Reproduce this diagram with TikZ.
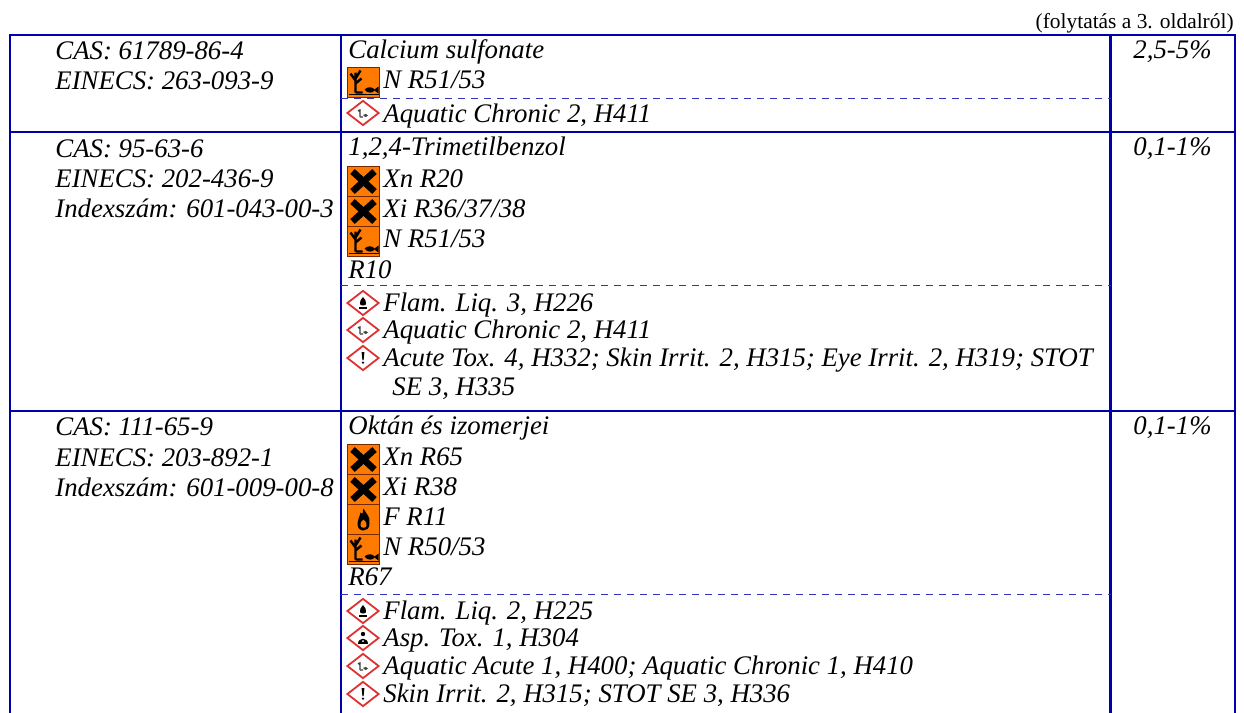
\documentclass[tikz,border=0pt]{standalone}
\usepackage{fontspec}
\setmainfont{Liberation Serif}
\usetikzlibrary{shapes.geometric}

\definecolor{tableblue}{RGB}{0,0,170}
\definecolor{hazorange}{RGB}{255,122,0}
\definecolor{hazedge}{RGB}{120,40,0}
\definecolor{ghsred}{RGB}{222,50,50}

\tikzset{
  tableline/.style={draw=tableblue, line width=1.15pt},
  dashline/.style={draw=tableblue!80!white, line width=0.5pt, dash pattern=on 3.5pt off 3pt},
  cell/.style={anchor=base west, inner sep=0pt, font=\fontsize{13.4}{15}\selectfont\itshape},
  pct/.style={cell, anchor=base},
  % old orange EU signs
  eusq/.style={rectangle, draw=hazedge, line width=0.5pt, fill=hazorange,
    minimum width=16pt, minimum height=15pt, inner sep=0pt, anchor=north west},
  xsq/.style={eusq, path picture={
    \draw[black, shift={(path picture bounding box.center)}, line width=3.3pt]
      (-11,-10) -- (11,10) (-11,10) -- (11,-10);}},
  flamesq/.style={eusq, path picture={
    \begin{scope}[shift={(path picture bounding box.center)}]
      \fill[black] (0,-11) .. controls (3,-5) and (7,-3) .. (6,4) .. controls (6,9) and (3,11) .. (0,11)
        .. controls (-4,11) and (-6,8) .. (-6,4) .. controls (-6,0) and (-4,-2) .. (-3,-7)
        .. controls (-1,-5) .. (0,-11) -- cycle;
      \fill[hazorange] (0,0) .. controls (3,3) .. (3,6) .. controls (3,9) and (-3,9) .. (-3,6)
        .. controls (-3,3) .. (0,0) -- cycle;
    \end{scope}}},
  envsq/.style={eusq, path picture={
    \begin{scope}[shift={(path picture bounding box.center)}, black]
      \draw[black, line width=1.2pt] (-8,10) -- (-8,-10) (-8,-2) -- (-13,-9) (-8,-4) -- (-3,-12)
        (-8,1) -- (-2,-4) (-8,10) -- (-1,10);
      \draw[black, line width=0.6pt] (-15,12) -- (15,12);
      \fill[black] (1,7) .. controls (4,4) and (9,4) .. (11,7) -- (15,4) -- (15,11) -- (11,8)
        .. controls (9,11) and (4,11) .. (1,7) -- cycle;
    \end{scope}}},
  % GHS diamonds
  ghs/.style={diamond, aspect=1.28, draw=ghsred, line width=0.9pt, fill=white,
    minimum width=16pt, minimum height=12.5pt, inner sep=0pt},
  ghsflame/.style={ghs, path picture={
    \begin{scope}[shift={(path picture bounding box.center)}]
      \fill[black] (0,-6) .. controls (3,-2) .. (3,1) .. controls (3,3) and (-3,3) .. (-3,1)
        .. controls (-3,-2) .. (0,-6) -- cycle;
      \fill[black] (-4,4) rectangle (4,5.5);
    \end{scope}}},
  ghsenv/.style={ghs, path picture={
    \begin{scope}[shift={(path picture bounding box.center)}]
      \draw[black!75, line width=0.6pt] (-3,4) -- (-3,-4) (-3,-1) -- (-5,-3) (-3,4) -- (0,4);
      \fill[black!75] (0,2) .. controls (2,0.5) and (4,0.5) .. (5,2.5) .. controls (4,4.5) and (2,4.5) .. (0,2) -- cycle;
    \end{scope}}},
  ghsexcl/.style={ghs, path picture={
    \begin{scope}[shift={(path picture bounding box.center)}]
      \fill[black] (-1.4,-6) -- (1.4,-6) -- (0.6,2) -- (-0.6,2) -- cycle;
      \fill[black] (0,4.6) circle (0.65pt);
    \end{scope}}},
  ghshealth/.style={ghs, path picture={
    \begin{scope}[shift={(path picture bounding box.center)}]
      \fill[black] (0,-4) circle (1.1pt);
      \fill[black] (-5,6) .. controls (-5,-1) and (5,-1) .. (5,6) -- cycle;
      \fill[white] (0,3) circle (0.5pt);
    \end{scope}}}
}

\begin{document}
\begin{tikzpicture}[x=0.5pt, y=-0.5pt]
  \useasboundingbox (0,0) rectangle (1244,713);

  \node[anchor=base east, inner sep=0pt, font=\fontsize{10.7}{12}\selectfont] (cont) at (1234,28) {(folytatás a 3. oldalról)};

  % table grid
  \draw[tableline] (10,713) -- (10,35) -- (1235,35) -- (1235,713);
  \draw[tableline] (341,35) -- (341,713) (1110.5,35) -- (1110.5,713);
  \draw[tableline] (10,132.3) -- (1235,132.3) (10,410.7) -- (1235,410.7);
  \draw[dashline] (341,98) -- (1110.5,98) (341,285) -- (1110.5,285) (341,594) -- (1110.5,594);

  % first row
  \node[cell] (cas1) at (55,59) {CAS: 61789-86-4};
  \node[cell] (einecs1) at (55,89) {EINECS: 263-093-9};
  \node[cell] (name1) at (348,58) {Calcium sulfonate};
  \node[envsq] (n1sign) at (347,67) {};
  \node[cell] (n1) at (383,88) {N R51/53};
  \node[ghsenv] (aq1sign) at (363,113) {};
  \node[cell] (aq1) at (383,122) {Aquatic Chronic 2, H411};
  \node[pct] (conc1) at (1172.5,58) {2,5-5\%};

  % second row
  \node[cell] (cas2) at (55,157) {CAS: 95-63-6};
  \node[cell] (einecs2) at (55,187) {EINECS: 202-436-9};
  \node[cell] (index2) at (55,217) {Indexszám: 601-043-00-3};
  \node[cell] (name2) at (348,155) {1,2,4-Trimetilbenzol};
  \node[xsq] (xn2sign) at (347,166) {};
  \node[cell] (xn2) at (383,187) {Xn R20};
  \node[xsq] (xi2sign) at (347,196) {};
  \node[cell] (xi2) at (383,217) {Xi R36/37/38};
  \node[envsq] (n2sign) at (347,226) {};
  \node[cell] (n2) at (383,247) {N R51/53};
  \node[cell] (r2) at (348,278) {R10};
  \node[ghsflame] (flam2sign) at (363,303) {};
  \node[cell] (flam2) at (383,311) {Flam. Liq. 3, H226};
  \node[ghsenv] (aq2sign) at (363,330) {};
  \node[cell] (aq2) at (383,338) {Aquatic Chronic 2, H411};
  \node[ghsexcl] (tox2sign) at (363,358) {};
  \node[cell] (tox2) at (383,366) {Acute Tox. 4, H332; Skin Irrit. 2, H315; Eye Irrit. 2, H319; STOT};
  \node[cell] (tox2b) at (392,395) {SE 3, H335};
  \node[pct] (conc2) at (1172.5,155) {0,1-1\%};

  % third row
  \node[cell] (cas3) at (55,435) {CAS: 111-65-9};
  \node[cell] (einecs3) at (55,466) {EINECS: 203-892-1};
  \node[cell] (index3) at (55,496) {Indexszám: 601-009-00-8};
  \node[cell] (name3) at (348,434) {Oktán és izomerjei};
  \node[xsq] (xn3sign) at (347,444) {};
  \node[cell] (xn3) at (383,465) {Xn R65};
  \node[xsq] (xi3sign) at (347,474) {};
  \node[cell] (xi3) at (383,495) {Xi R38};
  \node[flamesq] (f3sign) at (347,504) {};
  \node[cell] (f3) at (383,525) {F R11};
  \node[envsq] (n3sign) at (347,534) {};
  \node[cell] (n3) at (383,555) {N R50/53};
  \node[cell] (r3) at (348,585) {R67};
  \node[ghsflame] (flam3sign) at (363,611) {};
  \node[cell] (flam3) at (383,619) {Flam. Liq. 2, H225};
  \node[ghshealth] (asp3sign) at (363,638) {};
  \node[cell] (asp3) at (383,646) {Asp. Tox. 1, H304};
  \node[ghsenv] (aq3sign) at (363,666) {};
  \node[cell] (aq3) at (383,674) {Aquatic Acute 1, H400; Aquatic Chronic 1, H410};
  \node[ghsexcl] (irr3sign) at (363,694) {};
  \node[cell] (irr3) at (383,702) {Skin Irrit. 2, H315; STOT SE 3, H336};
  \node[pct] (conc3) at (1172.5,434) {0,1-1\%};
\end{tikzpicture}
\end{document}
